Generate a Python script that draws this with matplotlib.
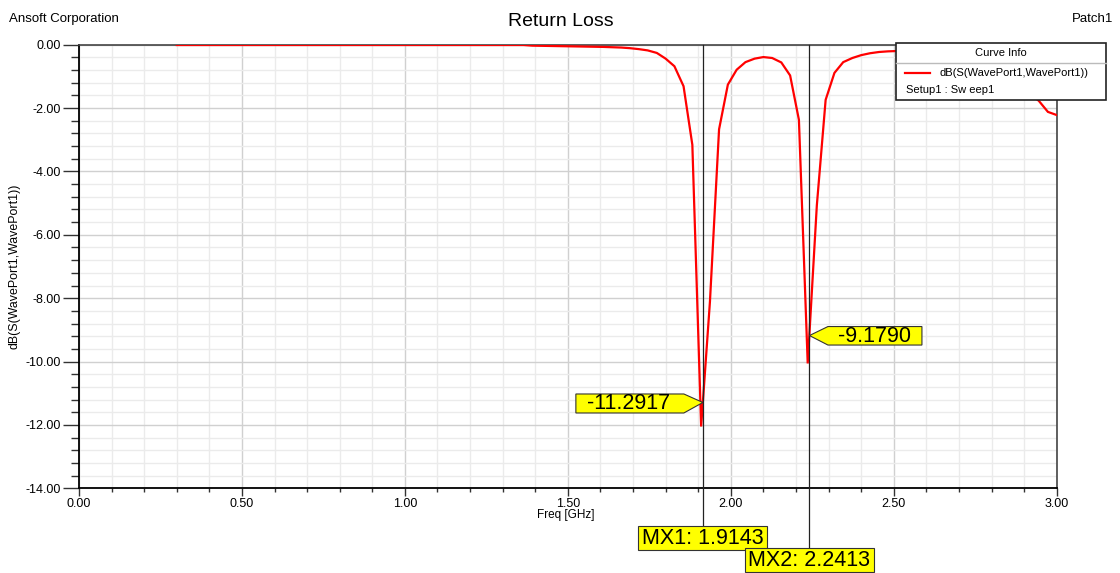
#!/usr/bin/env python3
"""HFSS-style return loss plot (S11 in dB) with two markers."""
import matplotlib
matplotlib.use("Agg")
import matplotlib.pyplot as plt
from matplotlib.patches import Polygon, Rectangle
from matplotlib.lines import Line2D
from matplotlib.ticker import MultipleLocator, FormatStrFormatter

plt.rcParams.update({
    "font.family": ["Liberation Sans", "DejaVu Sans"],
    "font.size": 9,
})

# sweep points (GHz, dB)
freq = [0.300, 0.600, 1.000, 1.364, 1.391, 1.445, 1.500, 1.555, 1.609, 1.664,
        1.691, 1.718, 1.745, 1.773, 1.800, 1.827, 1.855, 1.882, 1.909, 1.936,
        1.964, 1.991, 2.018, 2.045, 2.073, 2.100, 2.127, 2.155, 2.182, 2.209,
        2.236, 2.264, 2.291, 2.318, 2.345, 2.373, 2.400, 2.427, 2.455, 2.482,
        2.509, 2.536, 2.564, 2.591, 2.618, 2.645, 2.673, 2.700, 2.727, 2.755,
        2.782, 2.809, 2.836, 2.864, 2.891, 2.918, 2.945, 2.973, 3.000]
s11_db = [-0.01, -0.01, -0.01, -0.01, -0.03, -0.04, -0.05, -0.06, -0.07, -0.09,
          -0.11, -0.14, -0.18, -0.26, -0.44, -0.68, -1.31, -3.16, -12.05, -8.11,
          -2.67, -1.26, -0.79, -0.55, -0.44, -0.39, -0.42, -0.56, -0.97, -2.37,
          -10.06, -5.07, -1.74, -0.89, -0.55, -0.42, -0.33, -0.27, -0.23, -0.21,
          -0.20, -0.20, -0.21, -0.23, -0.26, -0.30, -0.35, -0.42, -0.50, -0.60,
          -0.72, -0.86, -1.00, -1.15, -1.35, -1.55, -1.77, -2.12, -2.22]

# markers (name, freq, value)
mk_names = ["MX1", "MX2"]
mk_freq = [1.9143, 2.2413]
mk_val = [-11.2917, -9.1790]

trace_label = "dB(S(WavePort1,WavePort1))"
setup_label = "Setup1 : Sw eep1"

W, H = 1120, 573
YELLOW = "#ffff00"


def fp(px, py):
    """top-left pixel -> figure fraction"""
    return px / W, 1 - py / H


fig = plt.figure(figsize=(W / 100, H / 100), dpi=100)
ax = fig.add_axes([79 / W, 1 - 488.3 / H, (1056.7 - 79) / W, (488.3 - 44.7) / H])

ax.plot(freq, s11_db, color="#ff0000", lw=1.6, zorder=3, solid_joinstyle="miter")
ax.set_xlim(0, 3.0)
ax.set_ylim(-14, 0)
ax.xaxis.set_major_locator(MultipleLocator(0.5))
ax.xaxis.set_minor_locator(MultipleLocator(0.1))
ax.yaxis.set_major_locator(MultipleLocator(2))
ax.yaxis.set_minor_locator(MultipleLocator(0.4))
ax.xaxis.set_major_formatter(FormatStrFormatter("%.2f"))
ax.yaxis.set_major_formatter(FormatStrFormatter("%.2f"))
ax.grid(which="minor", color="#ebebeb", lw=1.0)
ax.grid(which="major", color="#d0d0d0", lw=1.0)
ax.set_axisbelow(True)
ax.tick_params(axis="y", which="major", length=11.5, width=1, pad=1.5,
               color="#333333", labelsize=9)
ax.tick_params(axis="y", which="minor", length=5.8, width=1, color="#333333")
ax.tick_params(axis="x", which="major", length=5.8, width=1, pad=1.5,
               color="#333333", labelsize=9)
ax.tick_params(axis="x", which="minor", length=3.1, width=1, color="#333333")
for s in ["left", "bottom"]:
    ax.spines[s].set_color("black")
    ax.spines[s].set_linewidth(1.3)
for s in ["top", "right"]:
    ax.spines[s].set_color("#444444")
    ax.spines[s].set_linewidth(1.2)

# texts around the plot
fig.text(*fp(561, 21), "Return Loss", ha="center", va="center", fontsize=14)
fig.text(*fp(9, 19), "Ansoft Corporation", ha="left", va="center", fontsize=9.5)
fig.text(*fp(1113, 19), "Patch1", ha="right", va="center", fontsize=9.5)
fig.text(*fp(566, 515), "Freq [GHz]", ha="center", va="center", fontsize=8.5)
fig.text(*fp(15, 266), trace_label, ha="center", va="center",
         rotation=90, fontsize=8.9)

# curve info box
x0, y0, x1, y1 = 896, 43, 1106, 99.5
fig.add_artist(Rectangle(fp(x0, y1), (x1 - x0) / W, (y1 - y0) / H,
                         transform=fig.transFigure, facecolor="white",
                         edgecolor="#222222", lw=1.2, zorder=5))
fig.add_artist(Line2D([x0 / W, x1 / W], [1 - 63.3 / H] * 2,
                      transform=fig.transFigure, color="#bbbbbb", lw=1, zorder=6))
fig.text(*fp(1001, 53.5), "Curve Info", ha="center", va="center",
         fontsize=8, zorder=7)
fig.add_artist(Line2D([905 / W, 930 / W], [1 - 73.3 / H] * 2,
                      transform=fig.transFigure, color="#ff0000", lw=1.6, zorder=7))
fig.text(*fp(939, 73.5), trace_label, ha="left", va="center", fontsize=8, zorder=7)
fig.text(*fp(906, 90), setup_label, ha="left", va="center", fontsize=8, zorder=7)

# markers: vertical lines, MX boxes under the axis, value flags
fig.canvas.draw()
bottoms = [526, 548.3]
for i, (name, f, v) in enumerate(zip(mk_names, mk_freq, mk_val)):
    dx, dy = ax.transData.transform((f, v))
    tx, ty = dx, H - dy
    # vertical marker line from plot top to the MX box
    fig.add_artist(Line2D([tx / W] * 2, [1 - 44.7 / H, 1 - bottoms[i] / H],
                          transform=fig.transFigure, color="#222222",
                          lw=0.9, zorder=4))
    # MX box
    bw, bh = 129, 24
    bx, by = tx - bw / 2, bottoms[i]
    fig.add_artist(Rectangle(fp(bx, by + bh), bw / W, bh / H,
                             transform=fig.transFigure, facecolor=YELLOW,
                             edgecolor="#333333", lw=0.8, zorder=8))
    fig.text(*fp(tx, by + bh / 2 + 0.5), f"{name}: {f:.4f}", ha="center",
             va="center", fontsize=15.5, zorder=9)
    # value flag
    if i == 0:
        pts = [(tx - 127, ty - 8.5), (tx - 19, ty - 8.5), (tx, ty),
               (tx - 19, ty + 10.5), (tx - 127, ty + 10.5)]
        cx = tx - 74
    else:
        pts = [(tx, ty), (tx + 18.5, ty - 9), (tx + 112.5, ty - 9),
               (tx + 112.5, ty + 9.5), (tx + 18.5, ty + 9.5)]
        cx = tx + 65
    fig.add_artist(Polygon([fp(px, py) for px, py in pts], closed=True,
                           transform=fig.transFigure, facecolor=YELLOW,
                           edgecolor="#333333", lw=0.8, zorder=8))
    fig.text(*fp(cx, ty + 1), f"{v:.4f}", ha="center", va="center",
             fontsize=15.5, zorder=9)

fig.savefig("out.png", dpi=100)
